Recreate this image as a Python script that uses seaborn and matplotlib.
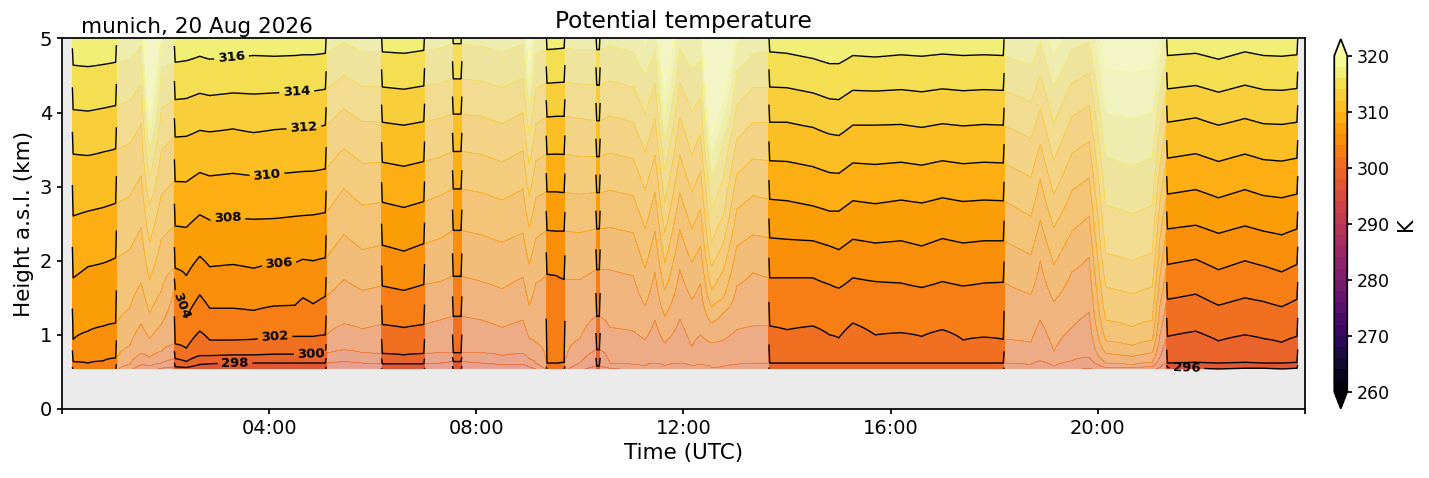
import numpy as np
import matplotlib
matplotlib.use("Agg")
import matplotlib.pyplot as plt
import seaborn as sns

# time of each profile (hours UTC)
hours = [
    0.20, 0.50, 0.80, 1.05,
    1.30, 1.53, 1.69, 1.92,
    2.17, 2.40, 2.66, 2.85, 3.30, 3.70, 4.10, 4.50, 4.65, 4.85, 5.10,
    5.44, 5.80,
    6.17, 6.60, 7.00,
    7.30,
    7.54, 7.72,
    8.10, 8.50, 8.90, 9.02, 9.15,
    9.35, 9.55, 9.71,
    10.00,
    10.31, 10.39,
    10.58, 11.03, 11.26, 11.45, 11.64, 11.93, 12.16, 12.33, 12.54, 12.77, 13.03, 13.34,
    13.65, 14.00, 14.50, 14.82, 15.00, 15.27, 15.70, 16.20, 16.60, 17.00, 17.40, 17.80, 18.19,
    18.71, 18.89, 19.15, 19.50, 19.83, 20.15, 20.67, 21.05, 21.20,
    21.33, 21.89, 22.33, 22.84, 23.20, 23.55, 23.86,
]

# height (km) of each isentrope at those times
h296 = [
    0.35, 0.35, 0.35, 0.36,
    0.40, 0.45, 0.45, 0.47,
    0.48, 0.48, 0.50, 0.50, 0.50, 0.50, 0.50, 0.50, 0.50, 0.50, 0.52,
    0.52, 0.50,
    0.50, 0.50, 0.50,
    0.52,
    0.52, 0.52,
    0.50, 0.50, 0.50, 0.48, 0.45,
    0.40, 0.40, 0.40,
    0.45,
    0.48, 0.48,
    0.45, 0.45, 0.45, 0.45, 0.45, 0.45, 0.45, 0.45, 0.45, 0.45, 0.46, 0.40,
    0.40, 0.40, 0.40, 0.40, 0.40, 0.40, 0.40, 0.40, 0.40, 0.40, 0.40, 0.40, 0.40,
    0.40, 0.42, 0.40, 0.42, 0.45, 0.45, 0.45, 0.45, 0.50,
    0.56, 0.55, 0.54, 0.55, 0.55, 0.54, 0.55,
]
h298 = [
    0.42, 0.42, 0.42, 0.43,
    0.46, 0.52, 0.52, 0.55,
    0.57, 0.56, 0.60, 0.61, 0.62, 0.62, 0.62, 0.62, 0.62, 0.62, 0.62,
    0.64, 0.62,
    0.61, 0.61, 0.61,
    0.62,
    0.64, 0.64,
    0.62, 0.60, 0.60, 0.57, 0.54,
    0.46, 0.46, 0.46,
    0.52,
    0.58, 0.58,
    0.55, 0.53, 0.52, 0.53, 0.52, 0.53, 0.52, 0.53, 0.50, 0.51, 0.53, 0.50,
    0.50, 0.50, 0.50, 0.50, 0.50, 0.50, 0.50, 0.50, 0.50, 0.50, 0.50, 0.50, 0.50,
    0.50, 0.52, 0.50, 0.52, 0.55, 0.52, 0.52, 0.52, 0.56,
    0.62, 0.63, 0.62, 0.63, 0.62, 0.62, 0.63,
]
h300 = [
    0.46, 0.46, 0.47, 0.48,
    0.52, 0.60, 0.58, 0.62,
    0.68, 0.64, 0.72, 0.72, 0.73, 0.73, 0.74, 0.74, 0.74, 0.74, 0.75,
    0.80, 0.76,
    0.75, 0.73, 0.75,
    0.76,
    0.76, 0.76,
    0.76, 0.72, 0.75, 0.68, 0.62,
    0.52, 0.52, 0.52,
    0.62,
    0.80, 0.80,
    0.62, 0.60, 0.58, 0.62, 0.58, 0.62, 0.58, 0.60, 0.56, 0.57, 0.60, 0.62,
    0.62, 0.62, 0.62, 0.62, 0.62, 0.62, 0.62, 0.62, 0.62, 0.62, 0.62, 0.62, 0.62,
    0.60, 0.65, 0.58, 0.65, 0.70, 0.56, 0.56, 0.57, 0.70,
    0.98, 1.05, 0.92, 1.00, 0.95, 0.90, 0.98,
]
h302 = [
    0.50, 0.50, 0.51, 0.52,
    0.60, 0.75, 0.70, 0.78,
    0.88, 0.82, 1.05, 0.93, 0.93, 0.94, 0.97, 0.98, 0.98, 0.98, 1.00,
    1.15, 1.08,
    1.14, 1.10, 1.14,
    1.20,
    1.25, 1.25,
    1.20, 1.10, 1.20, 0.95, 0.90,
    0.62, 0.62, 0.63,
    0.95,
    1.25, 1.25,
    1.10, 1.05, 0.93, 1.20, 0.89, 1.21, 0.84, 1.00, 0.89, 0.93, 1.07, 1.12,
    1.12, 1.07, 1.12, 1.00, 0.96, 1.16, 1.00, 1.03, 0.98, 1.07, 0.93, 0.97, 0.94,
    0.90, 1.20, 0.78, 1.10, 1.30, 0.62, 0.60, 0.63, 1.00,
    1.48, 1.55, 1.40, 1.50, 1.45, 1.38, 1.48,
]
h304 = [
    0.64, 0.62, 0.65, 0.69,
    0.85, 1.15, 0.95, 1.15,
    1.62, 1.24, 1.54, 1.36, 1.36, 1.33, 1.39, 1.40, 1.50, 1.42, 1.52,
    1.75, 1.60,
    1.66, 1.60, 1.68,
    1.72,
    1.79, 1.79,
    1.72, 1.62, 1.78, 1.40, 1.70,
    1.82, 1.80, 1.75,
    1.75,
    1.88, 1.88,
    1.88, 1.80, 1.39, 1.84, 1.25, 1.88, 1.48, 1.70, 1.16, 1.30, 1.66, 1.84,
    1.77, 1.77, 1.77, 1.68, 1.63, 1.77, 1.72, 1.70, 1.64, 1.72, 1.66, 1.70, 1.71,
    1.55, 2.00, 1.45, 1.85, 2.05, 0.75, 0.71, 0.76, 1.40,
    1.95, 2.02, 1.88, 2.00, 1.93, 1.85, 1.95,
]
h306 = [
    0.94, 1.05, 1.12, 1.16,
    1.35, 1.70, 1.30, 1.60,
    1.90, 1.80, 2.06, 1.92, 1.95, 1.90, 1.97, 1.97, 2.02, 2.00, 2.04,
    2.35, 2.15,
    2.21, 2.13, 2.23,
    2.30,
    2.41, 2.41,
    2.35, 2.25, 2.38, 1.95, 2.30,
    2.41, 2.40, 2.40,
    2.38,
    2.43, 2.43,
    2.45, 2.38, 1.90, 2.40, 1.60, 2.42, 1.98, 2.20, 1.38, 1.50, 2.20, 2.35,
    2.31, 2.29, 2.27, 2.20, 2.15, 2.29, 2.24, 2.27, 2.20, 2.30, 2.24, 2.27, 2.27,
    2.08, 2.55, 1.95, 2.40, 2.60, 0.92, 0.86, 0.93, 1.80,
    2.43, 2.48, 2.37, 2.47, 2.40, 2.35, 2.43,
]
h308 = [
    1.77, 1.92, 1.97, 2.04,
    2.15, 2.45, 1.75, 2.30,
    2.47, 2.45, 2.62, 2.55, 2.58, 2.56, 2.57, 2.60, 2.61, 2.62, 2.65,
    2.98, 2.75,
    2.79, 2.72, 2.80,
    2.88,
    2.97, 2.97,
    2.92, 2.82, 2.97, 2.45, 2.85,
    2.93, 2.93, 2.92,
    2.90,
    2.92, 2.92,
    2.95, 2.88, 2.43, 2.92, 1.97, 2.92, 2.43, 2.70, 1.61, 1.88, 2.70, 2.88,
    2.83, 2.81, 2.74, 2.67, 2.67, 2.81, 2.77, 2.82, 2.78, 2.85, 2.80, 2.82, 2.81,
    2.60, 3.10, 2.45, 2.95, 3.12, 1.20, 1.11, 1.20, 2.30,
    2.90, 2.96, 2.85, 2.96, 2.88, 2.85, 2.90,
]
h312 = [
    3.44, 3.42, 3.47, 3.51,
    3.58, 3.85, 2.75, 3.50,
    3.67, 3.68, 3.76, 3.74, 3.78, 3.73, 3.77, 3.79, 3.80, 3.80, 3.83,
    4.05, 3.88,
    3.87, 3.83, 3.88,
    3.92,
    3.98, 3.98,
    3.95, 3.85, 4.00, 3.30, 3.85,
    3.94, 3.95, 3.95,
    3.92,
    3.89, 3.89,
    3.96, 3.87, 3.46, 3.92, 2.79, 3.94, 3.42, 3.70, 2.24, 2.61, 3.64, 3.87,
    3.87, 3.87, 3.80, 3.71, 3.69, 3.83, 3.83, 3.84, 3.80, 3.85, 3.82, 3.84, 3.83,
    3.65, 4.05, 3.35, 3.95, 4.10, 2.10, 2.00, 2.10, 3.30,
    3.87, 3.93, 3.83, 3.92, 3.85, 3.84, 3.87,
]
h316 = [
    4.64, 4.62, 4.65, 4.68,
    4.72, 4.90, 3.50, 4.60,
    4.68, 4.70, 4.76, 4.72, 4.75, 4.77, 4.76, 4.77, 4.78, 4.78, 4.80,
    4.95, 4.82,
    4.82, 4.80, 4.84,
    4.87,
    4.93, 4.93,
    4.90, 4.82, 4.92, 4.10, 4.80,
    4.85, 4.86, 4.87,
    4.85,
    4.85, 4.85,
    4.90, 4.82, 4.50, 4.86, 3.64, 4.86, 4.59, 4.70, 3.15, 3.64, 4.55, 4.80,
    4.82, 4.80, 4.73, 4.66, 4.66, 4.77, 4.75, 4.78, 4.76, 4.79, 4.77, 4.78, 4.77,
    4.64, 4.95, 4.35, 4.85, 4.95, 3.40, 3.28, 3.40, 4.30,
    4.77, 4.80, 4.72, 4.82, 4.77, 4.76, 4.78,
]
h320 = [
    5.55, 5.55, 5.55, 5.60,
    5.60, 5.70, 4.00, 5.40,
    5.55, 5.55, 5.60, 5.60, 5.60, 5.60, 5.60, 5.60, 5.60, 5.60, 5.65,
    5.70, 5.65,
    5.65, 5.65, 5.65,
    5.70,
    5.75, 5.75,
    5.75, 5.70, 5.75, 4.70, 5.60,
    5.70, 5.70, 5.70,
    5.70,
    5.70, 5.70,
    5.75, 5.70, 5.30, 5.70, 4.30, 5.70, 5.40, 5.50, 3.70, 4.20, 5.30, 5.60,
    5.65, 5.65, 5.60, 5.55, 5.55, 5.60, 5.60, 5.65, 5.65, 5.65, 5.65, 5.65, 5.65,
    5.50, 5.80, 5.20, 5.70, 5.75, 4.60, 4.55, 4.60, 5.20,
    5.65, 5.65, 5.60, 5.70, 5.65, 5.65, 5.65,
]
iso_levels = [296, 298, 300, 302, 304, 306, 308, 312, 316, 320]

# periods with good data (drawn opaque with black isolines)
block_start = [0.20, 2.17, 6.17, 7.54, 9.35, 10.31, 13.65, 21.33]
block_end = [1.05, 5.10, 7.00, 7.72, 9.71, 10.39, 18.19, 23.86]

# where the contour labels sit: block index -> (hour, km) spots
label_spots = {
    1: [(3.26, 4.82), (4.52, 4.36), (4.67, 3.89), (3.94, 3.27), (3.19, 2.65),
        (4.19, 2.06), (2.30, 1.40), (4.11, 1.02), (4.81, 0.78), (3.34, 0.62)],
    7: [(21.72, 0.55)],
}

# build the theta field on a height grid
t = np.array(hours)
H = np.array([h296, h298, h300, h302, h304, h306, h308, h312, h316, h320])
lev = np.array(iso_levels, dtype=float)
z = np.arange(0.54, 5.06, 0.01)
theta = np.empty((z.size, t.size))
for j in range(t.size):
    col = H[:, j]
    theta[:, j] = np.interp(z, col, lev)
    top = z > col[-1]
    slope = (lev[-1] - lev[-2]) / (col[-1] - col[-2])
    theta[top, j] = lev[-1] + (z[top] - col[-1]) * slope

sns.set_theme(style="ticks", rc={
    "axes.edgecolor": "black", "axes.labelcolor": "black", "text.color": "black",
    "xtick.color": "black", "ytick.color": "black",
    "xtick.major.size": 3.5, "ytick.major.size": 3.5,
})
plt.rcParams["font.family"] = ["DejaVu Sans"]

levels = np.arange(260, 321, 2)
fig = plt.figure(figsize=(14.29, 4.78), dpi=100)
ax = fig.add_axes([0.0434, 0.1444, 0.8698, 0.7751])
ax.set_facecolor("#ebebeb")

# whole day, faded
ax.contourf(t, z, theta, levels=levels, cmap="inferno", extend="both", alpha=0.5, zorder=1)
ax.contour(t, z, theta, levels=levels, cmap="inferno", linewidths=0.6, alpha=0.4, zorder=1.2)

dip = 1.0
eps = 0.015
line_sets = []
cf = None
for s, e in zip(block_start, block_end):
    sel = (t >= s - 1e-6) & (t <= e + 1e-6)
    tb, fb = t[sel], theta[:, sel]
    cf = ax.contourf(tb, z, fb, levels=levels, cmap="inferno", extend="both", zorder=2)
    # edge columns dip a little, as in the retrieval
    t_line = np.concatenate([[tb[0]], [tb[0] + eps], tb[1:-1], [tb[-1] - eps], [tb[-1]]])
    f_line = np.column_stack([fb[:, 0] - dip, fb[:, 0], fb[:, 1:-1], fb[:, -1], fb[:, -1] - dip])
    cs = ax.contour(t_line, z, f_line, levels=levels, colors="black", linewidths=1.0, zorder=3)
    line_sets.append(cs)

for b, spots in label_spots.items():
    txts = ax.clabel(line_sets[b], manual=spots, fmt="%d", fontsize=9.5, inline=True)
    for tx in txts:
        tx.set_fontweight("bold")

ax.set_xlim(0, 24)
ax.set_ylim(0, 5)
xt = list(range(0, 25, 4))
ax.set_xticks(xt)
ax.set_xticklabels([f"{h:02d}:00" if 0 < h < 24 else "" for h in xt])
ax.set_yticks(range(0, 6))
ax.tick_params(labelsize=14)
ax.set_xlabel("Time (UTC)", fontsize=15.5)
ax.set_ylabel("Height a.s.l. (km)", fontsize=15.5)
ax.set_title("Potential temperature", fontsize=16.8, pad=7.5)
ax.text(0.015, 1.0155, "munich, 20 Aug 2026", transform=ax.transAxes, fontsize=15.5,
        ha="left", va="baseline")
for sp in ax.spines.values():
    sp.set_visible(True)

cax = fig.add_axes([0.9337, 0.1454, 0.0091, 0.773])
cb = fig.colorbar(cf, cax=cax, ticks=range(260, 321, 10))
cb.ax.tick_params(labelsize=12.5)
cb.set_label("K", fontsize=15)

fig.savefig("out.png", dpi=100)
